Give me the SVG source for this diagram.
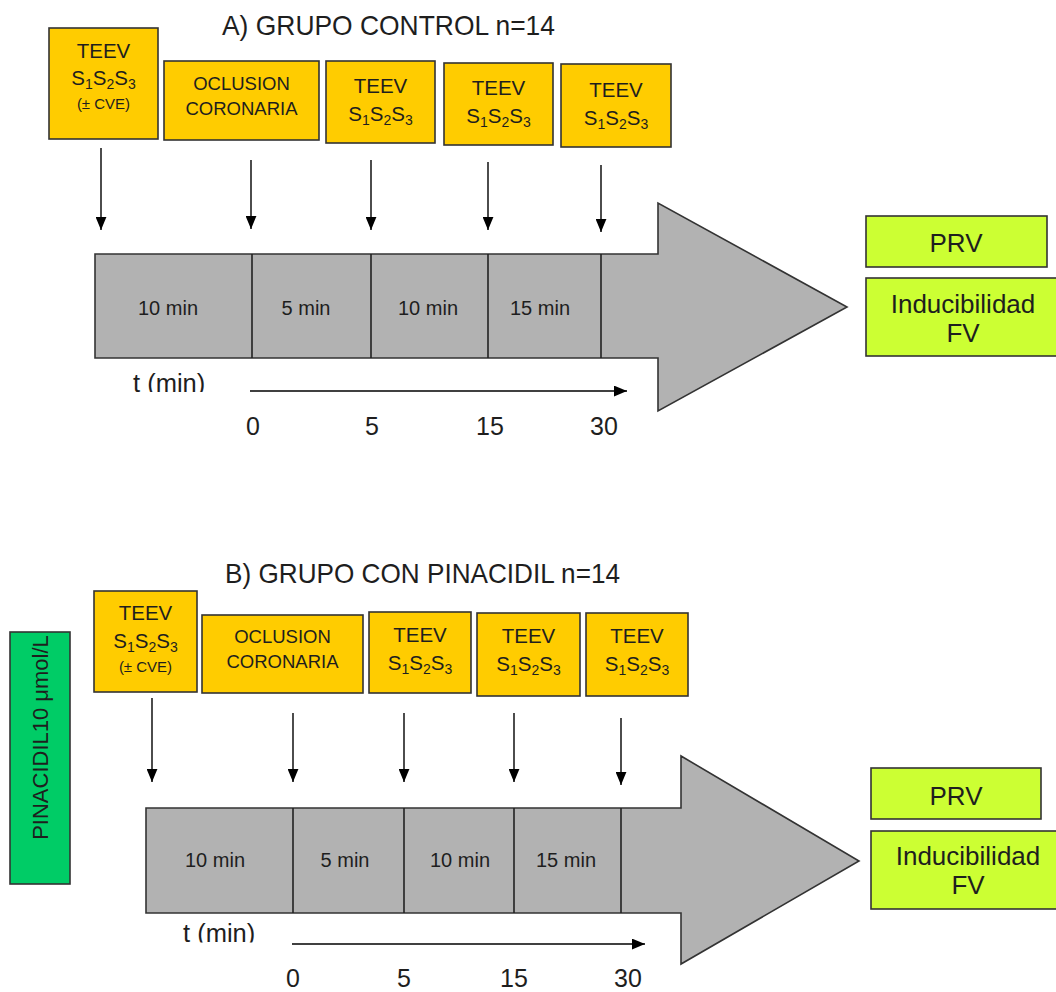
<svg xmlns="http://www.w3.org/2000/svg" width="1056" height="992" viewBox="0 0 1056 992">
<style>
text{font-family:"Liberation Sans",Arial,sans-serif;fill:#1e1e1e}
.box{fill:#FFCC00;stroke:#333;stroke-width:1.6}
.res{fill:#CCFF33;stroke:#333;stroke-width:1.6}
.bar{fill:#B2B2B2;stroke:#333;stroke-width:1.6}
.div{stroke:#222;stroke-width:1.6;fill:none}
.ln{stroke:#000;stroke-width:1.4;fill:none;marker-end:url(#ah)}
.t20{font-size:20.5px;text-anchor:middle}
.t18{font-size:18.5px;text-anchor:middle}
.t14{font-size:15px;text-anchor:middle}
.seg{font-size:20px;text-anchor:middle}
.num{font-size:25px;text-anchor:middle}
.res-t{font-size:26px;text-anchor:middle}
.ttl{font-size:28px}
.tm{font-size:25.5px}
</style>
<defs>
<marker id="ah" viewBox="0 0 12 10" refX="12" refY="5" markerWidth="13" markerHeight="11" markerUnits="userSpaceOnUse" orient="auto"><path d="M0,0 L12,5 L0,10 z" fill="#000"/></marker>
<clipPath id="clipA"><rect x="100" y="360" width="150" height="32"/></clipPath>
<clipPath id="clipB"><rect x="150" y="910" width="150" height="32.5"/></clipPath>
</defs>

<!-- ===== Panel A ===== -->
<g id="titleA"><text class="ttl" x="222" y="35" textLength="333" lengthAdjust="spacingAndGlyphs">A) GRUPO CONTROL n=14</text></g>

<g id="A-teev0">
<rect class="box" x="49" y="28" width="109" height="111"/>
<text class="t20" x="103.5" y="58">TEEV</text>
<text class="t20" x="103.5" y="85">S<tspan font-size="14" dy="4">1</tspan><tspan dy="-4">S</tspan><tspan font-size="14" dy="4">2</tspan><tspan dy="-4">S</tspan><tspan font-size="14" dy="4">3</tspan></text>
<text class="t14" x="103.5" y="109">(± CVE)</text>
</g>
<g id="A-oclusion">
<rect class="box" x="164" y="61" width="155" height="79"/>
<text class="t18" x="241.5" y="90">OCLUSION</text>
<text class="t18" x="241.5" y="115">CORONARIA</text>
</g>
<g id="A-teev5">
<rect class="box" x="326" y="61" width="109" height="82"/>
<text class="t20" x="380.5" y="93">TEEV</text>
<text class="t20" x="380.5" y="121">S<tspan font-size="14" dy="4">1</tspan><tspan dy="-4">S</tspan><tspan font-size="14" dy="4">2</tspan><tspan dy="-4">S</tspan><tspan font-size="14" dy="4">3</tspan></text>
</g>
<g id="A-teev15">
<rect class="box" x="444" y="63" width="109" height="82"/>
<text class="t20" x="498.5" y="95">TEEV</text>
<text class="t20" x="498.5" y="123">S<tspan font-size="14" dy="4">1</tspan><tspan dy="-4">S</tspan><tspan font-size="14" dy="4">2</tspan><tspan dy="-4">S</tspan><tspan font-size="14" dy="4">3</tspan></text>
</g>
<g id="A-teev30">
<rect class="box" x="561" y="64" width="110" height="83"/>
<text class="t20" x="616" y="97">TEEV</text>
<text class="t20" x="616" y="125">S<tspan font-size="14" dy="4">1</tspan><tspan dy="-4">S</tspan><tspan font-size="14" dy="4">2</tspan><tspan dy="-4">S</tspan><tspan font-size="14" dy="4">3</tspan></text>
</g>

<g id="A-timeline">
<path class="bar" d="M95,254 L658,254 L658,203 L847,307 L658,411 L658,358 L95,358 Z"/>
<path class="div" d="M252,254 V358 M371,254 V358 M488,254 V358 M601,254 V358"/>
<text class="seg" x="168" y="315">10 min</text>
<text class="seg" x="306" y="315">5 min</text>
<text class="seg" x="428" y="315">10 min</text>
<text class="seg" x="540" y="315">15 min</text>
</g>

<g id="A-axis">
<text class="tm" x="133" y="392" clip-path="url(#clipA)">t (min)</text>
<text class="num" x="253" y="435">0</text>
<text class="num" x="372" y="435">5</text>
<text class="num" x="490" y="435">15</text>
<text class="num" x="604" y="435">30</text>
</g>

<g id="A-prv">
<rect class="res" x="866" y="216" width="181" height="51"/>
<text class="res-t" x="956" y="252">PRV</text>
</g>
<g id="A-fv">
<rect class="res" x="866" y="278" width="195" height="78"/>
<text class="res-t" x="963" y="313">Inducibilidad</text>
<text class="res-t" x="963" y="342">FV</text>
</g>

<!-- ===== Panel B ===== -->
<g id="titleB"><text class="ttl" x="225" y="583" textLength="395" lengthAdjust="spacingAndGlyphs">B) GRUPO CON PINACIDIL n=14</text></g>

<g id="B-pinacidil">
<rect x="10" y="632" width="60" height="252" fill="#00CC66" stroke="#333" stroke-width="1.6"/>
<text x="0" y="0" font-size="22" text-anchor="middle" transform="translate(48,737.5) rotate(-90)">PINACIDIL10 μmol/L</text>
</g>

<g id="B-teev0">
<rect class="box" x="94" y="591" width="103" height="101"/>
<text class="t20" x="145.5" y="620">TEEV</text>
<text class="t20" x="145.5" y="648">S<tspan font-size="14" dy="4">1</tspan><tspan dy="-4">S</tspan><tspan font-size="14" dy="4">2</tspan><tspan dy="-4">S</tspan><tspan font-size="14" dy="4">3</tspan></text>
<text class="t14" x="145.5" y="672">(± CVE)</text>
</g>
<g id="B-oclusion">
<rect class="box" x="202" y="615" width="161" height="78"/>
<text class="t18" x="282.5" y="643">OCLUSION</text>
<text class="t18" x="282.5" y="668">CORONARIA</text>
</g>
<g id="B-teev5">
<rect class="box" x="369" y="612" width="102" height="81"/>
<text class="t20" x="420" y="642">TEEV</text>
<text class="t20" x="420" y="670">S<tspan font-size="14" dy="4">1</tspan><tspan dy="-4">S</tspan><tspan font-size="14" dy="4">2</tspan><tspan dy="-4">S</tspan><tspan font-size="14" dy="4">3</tspan></text>
</g>
<g id="B-teev15">
<rect class="box" x="477" y="613" width="103" height="83"/>
<text class="t20" x="528.5" y="643">TEEV</text>
<text class="t20" x="528.5" y="671">S<tspan font-size="14" dy="4">1</tspan><tspan dy="-4">S</tspan><tspan font-size="14" dy="4">2</tspan><tspan dy="-4">S</tspan><tspan font-size="14" dy="4">3</tspan></text>
</g>
<g id="B-teev30">
<rect class="box" x="586" y="613" width="102" height="83"/>
<text class="t20" x="637" y="643">TEEV</text>
<text class="t20" x="637" y="671">S<tspan font-size="14" dy="4">1</tspan><tspan dy="-4">S</tspan><tspan font-size="14" dy="4">2</tspan><tspan dy="-4">S</tspan><tspan font-size="14" dy="4">3</tspan></text>
</g>

<g id="B-timeline">
<path class="bar" d="M146,808 L681,808 L681,756 L859,861 L681,964 L681,913 L146,913 Z"/>
<path class="div" d="M293,808 V913 M404,808 V913 M514,808 V913 M621,808 V913"/>
<text class="seg" x="215" y="867">10 min</text>
<text class="seg" x="345" y="867">5 min</text>
<text class="seg" x="460" y="867">10 min</text>
<text class="seg" x="566" y="867">15 min</text>
</g>

<g id="B-axis">
<text class="tm" x="183" y="942" clip-path="url(#clipB)">t (min)</text>
<text class="num" x="293" y="987">0</text>
<text class="num" x="404" y="987">5</text>
<text class="num" x="514" y="987">15</text>
<text class="num" x="628" y="987">30</text>
</g>

<g id="B-prv">
<rect class="res" x="871" y="768" width="170" height="51"/>
<text class="res-t" x="956" y="805">PRV</text>
</g>
<g id="B-fv">
<rect class="res" x="871" y="831" width="190" height="78"/>
<text class="res-t" x="968" y="865">Inducibilidad</text>
<text class="res-t" x="968" y="894">FV</text>
</g>

<!-- ===== Connectors ===== -->
<g id="connectors">
<path class="ln" d="M101,148 V230"/>
<path class="ln" d="M251,160 V229"/>
<path class="ln" d="M371,160 V230"/>
<path class="ln" d="M488,162 V230"/>
<path class="ln" d="M601,165 V232"/>
<path class="ln" d="M250,391 H627"/>
<path class="ln" d="M152,698 V782"/>
<path class="ln" d="M293,713 V782"/>
<path class="ln" d="M404,713 V782"/>
<path class="ln" d="M514,713 V782"/>
<path class="ln" d="M621,718 V785"/>
<path class="ln" d="M292,944 H645"/>
</g>
</svg>
